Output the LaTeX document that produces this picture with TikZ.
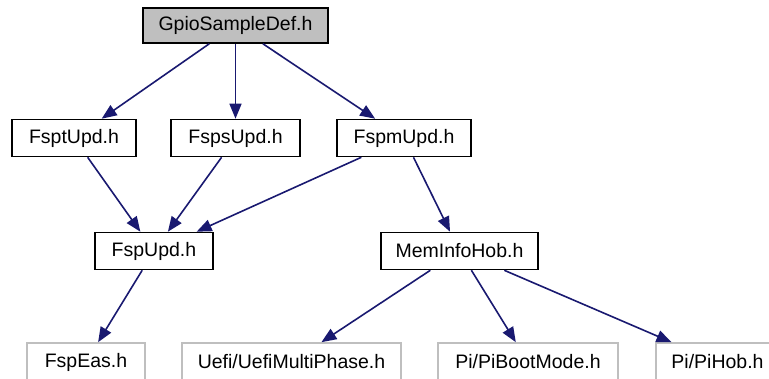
\documentclass[tikz,border=0pt]{standalone}
\usepackage{fontspec}
\setmainfont{Liberation Sans}
\usetikzlibrary{arrows.meta}
\definecolor{edgeblue}{HTML}{191970}
\definecolor{grayfill}{HTML}{BFBFBF}
\definecolor{grayline}{HTML}{BFBFBF}
\tikzset{
  hbox/.style={draw=black, line width=1.6pt, fill=white, inner sep=0pt, minimum height=#1, font=\fontsize{19.5}{22}\selectfont, text=black},
  hbox/.default=37pt,
  rootbox/.style={hbox, fill=grayfill},
  extbox/.style={hbox, draw=grayline},
  dep/.style={draw=edgeblue, line width=1.6pt, -{Triangle[length=15pt,width=12pt]}}
}
\begin{document}
\begin{tikzpicture}[x=1pt,y=-1pt]
\useasboundingbox (0,0) rectangle (769,378);
\node[rootbox, minimum width=185pt, minimum height=35pt] (root) at (235.5,25.5) {GpioSampleDef.h};
\node[hbox, minimum width=124pt] (fspt) at (74,138) {FsptUpd.h};
\node[hbox, minimum width=129pt] (fsps) at (235.5,138) {FspsUpd.h};
\node[hbox, minimum width=134pt] (fspm) at (404,138) {FspmUpd.h};
\node[hbox, minimum width=118pt] (fspupd) at (154,251) {FspUpd.h};
\node[hbox, minimum width=157pt] (mem) at (459.5,251) {MemInfoHob.h};
\node[extbox, minimum width=118pt, minimum height=38pt] (eas) at (86,362) {FspEas.h};
\node[extbox, minimum width=219pt, minimum height=38pt] (uefi) at (291.5,362) {Uefi/UefiMultiPhase.h};
\node[extbox, minimum width=180pt, minimum height=38pt] (boot) at (528,362) {Pi/PiBootMode.h};
\node[extbox, minimum width=123pt, minimum height=38pt] (pihob) at (717.5,362) {Pi/PiHob.h};
\draw[dep] (root) -- (fspt);
\draw[dep] (root) -- (fsps);
\draw[dep] (root) -- (fspm);
\draw[dep] (fspt) -- (fspupd);
\draw[dep] (fsps) -- (fspupd);
\draw[dep] (fspm) -- (fspupd);
\draw[dep] (fspm) -- (mem);
\draw[dep] (fspupd) -- (eas);
\draw[dep] (mem) -- (uefi);
\draw[dep] (mem) -- (boot);
\draw[dep] (mem) -- (pihob);
\end{tikzpicture}
\end{document}
